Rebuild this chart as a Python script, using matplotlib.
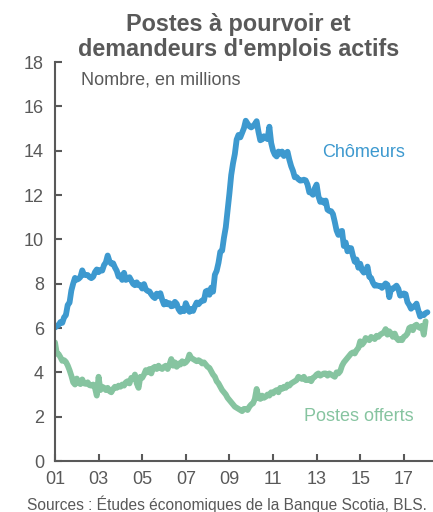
import numpy as np
import matplotlib
matplotlib.use("Agg")
import matplotlib.pyplot as plt

plt.rcParams['font.family'] = ['Liberation Sans', 'DejaVu Sans']

# Monthly data, Jan 2001 onward (millions)
chomeurs = [
    6.02, 6.09, 6.14, 6.27, 6.23, 6.48, 6.58, 7.04, 7.14, 7.69, 8.00, 8.26,
    8.18, 8.22, 8.30, 8.60, 8.40, 8.39, 8.39, 8.30, 8.25, 8.31, 8.52, 8.64,
    8.52, 8.62, 8.59, 8.84, 8.96, 9.27, 9.01, 8.90, 8.92, 8.73, 8.58, 8.32,
    8.37, 8.17, 8.49, 8.17, 8.21, 8.29, 8.14, 7.99, 7.93, 8.06, 7.93, 7.93,
    7.78, 7.98, 7.74, 7.67, 7.65, 7.52, 7.41, 7.35, 7.55, 7.45, 7.57, 7.28,
    7.06, 7.18, 7.07, 7.12, 6.98, 7.00, 7.18, 7.09, 6.85, 6.73, 6.87, 6.76,
    7.12, 6.93, 6.73, 6.85, 6.77, 6.98, 7.15, 7.07, 7.17, 7.24, 7.24, 7.65,
    7.69, 7.50, 7.82, 7.64, 8.40, 8.58, 8.94, 9.44, 9.49, 10.07, 10.54, 11.29,
    12.06, 12.90, 13.43, 13.85, 14.50, 14.71, 14.60, 14.81, 15.01, 15.35, 15.22, 15.10,
    15.05, 15.11, 15.20, 15.33, 14.85, 14.47, 14.51, 14.65, 14.58, 14.52, 15.08, 14.35,
    14.01, 13.82, 13.74, 13.96, 13.86, 13.96, 13.76, 13.82, 13.95, 13.59, 13.30, 13.09,
    12.80, 12.81, 12.71, 12.65, 12.66, 12.69, 12.66, 12.47, 12.12, 12.12, 12.01, 12.30,
    12.47, 11.95, 11.69, 11.76, 11.65, 11.75, 11.34, 11.28, 11.27, 11.14, 10.79, 10.40,
    10.20, 10.35, 10.38, 9.70, 9.86, 9.46, 9.61, 9.60, 9.26, 8.99, 9.09, 8.72,
    8.90, 8.61, 8.50, 8.53, 8.77, 8.31, 8.26, 8.05, 7.91, 7.93, 7.90, 7.90,
    7.81, 7.91, 8.01, 7.95, 7.39, 7.78, 7.76, 7.84, 7.91, 7.77, 7.46, 7.49,
    7.56, 7.53, 7.17, 7.04, 6.87, 6.97, 6.96, 7.10, 6.79, 6.52, 6.61, 6.58,
    6.67, 6.71,
]

postes = [
    5.35, 4.85, 4.82, 4.68, 4.52, 4.55, 4.47, 4.31, 4.10, 3.85, 3.55, 3.45,
    3.72, 3.52, 3.47, 3.68, 3.50, 3.48, 3.55, 3.42, 3.40, 3.45, 3.30, 2.95,
    3.80, 3.20, 3.35, 3.30, 3.20, 3.30, 3.15, 3.10, 3.25, 3.35, 3.30, 3.40,
    3.35, 3.45, 3.40, 3.55, 3.60, 3.50, 3.75, 3.70, 3.90, 3.50, 3.30, 3.80,
    3.75, 3.90, 4.10, 4.00, 4.15, 3.95, 4.20, 4.25, 4.15, 4.30, 4.20, 4.15,
    4.25, 4.30, 4.15, 4.35, 4.60, 4.30, 4.45, 4.25, 4.40, 4.35, 4.50, 4.40,
    4.45, 4.55, 4.80, 4.65, 4.60, 4.55, 4.50, 4.55, 4.50, 4.40, 4.45, 4.35,
    4.25, 4.20, 4.05, 3.90, 3.80, 3.60, 3.50, 3.35, 3.20, 3.10, 3.00, 2.85,
    2.75, 2.65, 2.55, 2.45, 2.40, 2.35, 2.30, 2.25, 2.35, 2.35, 2.30, 2.45,
    2.55, 2.60, 2.80, 3.25, 2.85, 2.80, 2.95, 2.85, 2.90, 3.00, 2.95, 3.10,
    3.05, 3.15, 3.20, 3.10, 3.30, 3.25, 3.35, 3.30, 3.45, 3.40, 3.50, 3.55,
    3.60, 3.65, 3.80, 3.75, 3.70, 3.80, 3.65, 3.65, 3.70, 3.60, 3.75, 3.80,
    3.90, 3.95, 3.85, 3.90, 3.95, 3.95, 3.85, 3.95, 3.90, 3.85, 3.80, 4.00,
    3.95, 4.05, 4.30, 4.45, 4.55, 4.65, 4.75, 4.85, 4.90, 4.85, 5.00, 5.10,
    5.40, 5.25, 5.35, 5.55, 5.50, 5.45, 5.60, 5.55, 5.50, 5.65, 5.60, 5.70,
    5.75, 5.80, 5.95, 5.70, 5.85, 5.75, 5.60, 5.75, 5.55, 5.45, 5.50, 5.45,
    5.60, 5.65, 5.75, 6.00, 6.05, 5.90, 6.10, 6.15, 6.05, 6.00, 6.10, 5.70,
    6.30,
]

start_year = 2001
x_ch = start_year + np.arange(len(chomeurs)) / 12.0
x_po = start_year + np.arange(len(postes)) / 12.0

tick_years = [2001, 2003, 2005, 2007, 2009, 2011, 2013, 2015, 2017]
tick_labels = ["01", "03", "05", "07", "09", "11", "13", "15", "17"]
y_ticks = [0, 2, 4, 6, 8, 10, 12, 14, 16, 18]

blue = "#3d99cf"
green = "#86c4a0"
gray = "#595959"

fig = plt.figure(figsize=(4.33, 5.12), dpi=100)
ax = fig.add_axes([0.127, 0.0996, 0.871, 0.7793])

ax.plot(x_ch, chomeurs, color=blue, lw=4.2, solid_joinstyle='round', solid_capstyle='round')
ax.plot(x_po, postes, color=green, lw=4.2, solid_joinstyle='round', solid_capstyle='round')

ax.set_xlim(2001, 2018.3)
ax.set_ylim(0, 18)
ax.set_xticks(tick_years)
ax.set_xticklabels(tick_labels)
ax.set_yticks(y_ticks)

for s in ['top', 'right']:
    ax.spines[s].set_visible(False)
for s in ['left', 'bottom']:
    ax.spines[s].set_color(gray)
    ax.spines[s].set_linewidth(1.5)

ax.tick_params(axis='both', direction='in', length=5, width=1.5, color=gray,
               labelcolor=gray, labelsize=13)
ax.tick_params(axis='y', pad=8)
ax.tick_params(axis='x', pad=7)

ax.text(0.069, 17.2, "Nombre, en millions", transform=ax.get_yaxis_transform(),
        fontsize=13, color=gray, va='center', ha='left')
ax.text(2013.25, 13.9, "Chômeurs", fontsize=13, color=blue, va='center', ha='left')
ax.text(2012.4, 2.0, "Postes offerts", fontsize=13, color=green, va='center', ha='left')

fig.text(0.55, 0.928, "Postes à pourvoir et\ndemandeurs d'emplois actifs",
         ha='center', va='center', fontsize=16.8, fontweight='bold', color=gray,
         linespacing=1.1)
fig.text(0.525, 0.016, "Sources : Études économiques de la Banque Scotia, BLS.",
         ha='center', va='center', fontsize=11.2, color=gray)

fig.savefig("out.png", dpi=100)
